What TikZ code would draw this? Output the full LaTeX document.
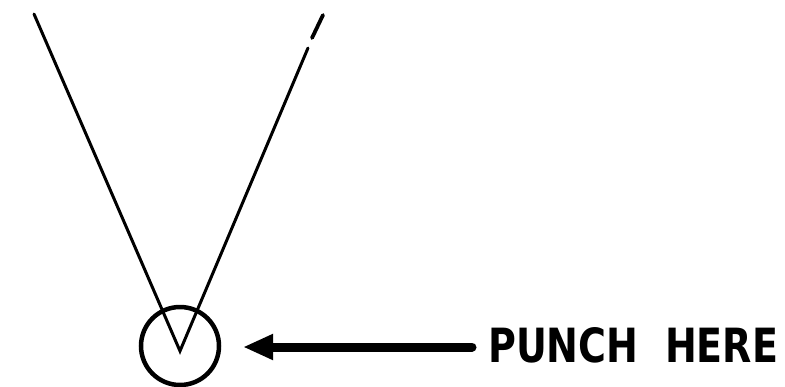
\documentclass[tikz,border=0pt]{standalone}
\usepackage{fontspec}
\setmainfont{DejaVu Sans}
\usetikzlibrary{arrows.meta}
\tikzset{
  thinline/.style={line width=3pt, line cap=round},
  ringline/.style={line width=4.5pt},
  pointer/.style={line width=9pt, line cap=round, -{Triangle[length=30pt,width=24pt]}},
  label/.style={inner sep=0pt, anchor=west}
}
\begin{document}
\begin{tikzpicture}[x=1pt,y=-1pt]
\useasboundingbox (0,0) rectangle (785,386);
\coordinate (tl) at (34,14);
\coordinate (tip) at (180,351);
\coordinate (tr) at (323,15);
\coordinate (tr2) at (312,38);
\coordinate (tr3) at (308,48);
\draw[thinline] (tl) -- (tip) -- (tr3);
\draw[thinline, line width=3.8pt] (tr2) -- (tr);
\node[circle, draw, ringline, minimum size=78pt, inner sep=0pt] (ring) at (180,346) {};
\node[label] (txt) at (488,345.5) {\resizebox{290pt}{35pt}{\bfseries PUNCH\ \ HERE}};
\coordinate (astart) at (472,347);
\coordinate (aend) at (243,347);
\draw[pointer] (astart) -- (aend);
\end{tikzpicture}
\end{document}
